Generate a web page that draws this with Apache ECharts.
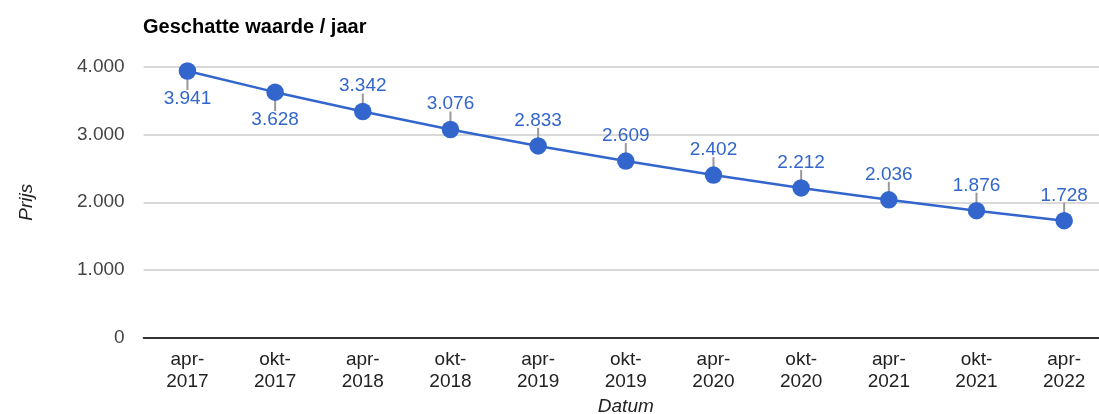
<!DOCTYPE html>
<html>
<head>
<meta charset="utf-8">
<style>
  html, body { margin: 0; padding: 0; background: #fff; }
  #chart { width: 1099px; height: 414px; }
</style>
<script src="https://cdn.jsdelivr.net/npm/echarts@6/dist/echarts.min.js"></script>
</head>
<body>
<div id="chart"></div>
<script>
// Estimated value per half year
const categories = ['apr-\n2017', 'okt-\n2017', 'apr-\n2018', 'okt-\n2018', 'apr-\n2019', 'okt-\n2019',
                    'apr-\n2020', 'okt-\n2020', 'apr-\n2021', 'okt-\n2021', 'apr-\n2022'];
const prices = [3941, 3628, 3342, 3076, 2833, 2609, 2402, 2212, 2036, 1876, 1728];
const yTicks = [0, 1000, 2000, 3000, 4000];

// Annotations of the first points sit below the marker, the rest above it
const BELOW_COUNT = 2;
const FONT = 'Arial, "Liberation Sans", sans-serif';
const BLUE = '#3366cc';

function fmt(v) {
  return String(Math.round(v)).replace(/\B(?=(\d{3})+(?!\d))/g, '.');
}

const chart = echarts.init(document.getElementById('chart'), null, { renderer: 'canvas' });

chart.setOption({
  animation: false,
  title: {
    text: 'Geschatte waarde / jaar',
    left: 138, top: 12,
    textStyle: { fontFamily: FONT, fontSize: 20, fontWeight: 'bold', color: '#000' }
  },
  grid: {
    left: 143.6, right: -9, top: 67, bottom: 76.5,
    containLabel: false, outerBoundsMode: 'none'
  },
  xAxis: {
    type: 'category',
    data: categories,
    boundaryGap: true,
    name: 'Datum',
    nameLocation: 'middle',
    nameGap: 60,
    nameTextStyle: { fontFamily: FONT, fontSize: 19, fontStyle: 'italic', color: '#222' },
    axisLine: { show: true, lineStyle: { color: '#333', width: 2 } },
    axisTick: { show: false },
    axisLabel: {
      interval: 0, margin: 11, fontFamily: FONT, fontSize: 19, color: '#222', lineHeight: 22
    }
  },
  yAxis: {
    type: 'value',
    min: yTicks[0],
    max: yTicks[yTicks.length - 1],
    interval: yTicks[1] - yTicks[0],
    name: 'Prijs',
    nameLocation: 'middle',
    nameGap: 107,
    nameRotate: 90,
    nameTextStyle: { fontFamily: FONT, fontSize: 19, fontStyle: 'italic', color: '#222' },
    axisLine: { show: false },
    axisTick: { show: false },
    splitLine: { lineStyle: { color: '#cccccc', width: 1.5 } },
    axisLabel: {
      margin: 19, fontFamily: FONT, fontSize: 19, color: '#444',
      formatter: fmt
    }
  },
  series: [
    {
      // short grey leader lines between marker and annotation
      type: 'custom',
      data: prices.map((v, i) => [i, v]),
      encode: { x: 0, y: 1 },
      z: 1,
      silent: true,
      renderItem: function (params, api) {
        const p = api.coord([api.value(0), api.value(1)]);
        const below = params.dataIndex < BELOW_COUNT;
        const dir = below ? 1 : -1;
        return {
          type: 'line',
          shape: { x1: p[0], y1: p[1] + dir * 4, x2: p[0], y2: p[1] + dir * (below ? 19 : 18) },
          style: { stroke: '#999', lineWidth: 2 }
        };
      }
    },
    {
      type: 'line',
      data: prices.map((v, i) => ({
        value: v,
        label: i < BELOW_COUNT ? { position: 'bottom', distance: 9.5 } : { position: 'top', distance: 7 }
      })),
      z: 3,
      symbol: 'circle',
      symbolSize: 17.5,
      itemStyle: { color: BLUE },
      lineStyle: { color: BLUE, width: 2.5 },
      label: {
        show: true,
        fontFamily: FONT,
        fontSize: 19,
        color: BLUE,
        formatter: (p) => fmt(p.value)
      }
    }
  ]
});
</script>
</body>
</html>
